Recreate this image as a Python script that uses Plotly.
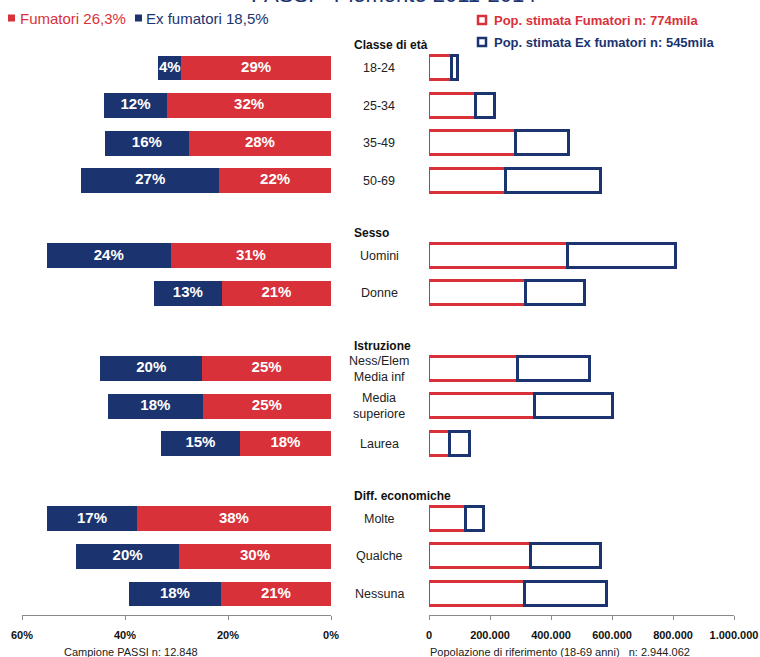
import plotly.graph_objects as go

# ---------------- data ----------------
groups = ["Classe di età", "Sesso", "Istruzione", "Diff. economiche"]
categories = [
    ["18-24", "25-34", "35-49", "50-69"],
    ["Uomini", "Donne"],
    ["Ness/Elem<br>Media inf", "Media<br>superiore", "Laurea"],
    ["Molte", "Qualche", "Nessuna"],
]
fumatori_pct = [29.1, 31.8, 27.6, 21.7, 31.1, 21.2, 25.0, 24.9, 17.7, 37.7, 29.5, 21.4]
ex_fumatori_pct = [4.4, 12.3, 16.3, 26.8, 24.1, 13.2, 19.8, 18.4, 15.3, 17.4, 20.0, 17.8]
fumatori_pop = [76000, 154000, 286000, 252000, 455000, 317000, 293000, 348000, 69000, 121000, 334000, 315000]
ex_fumatori_pop = [19000, 61000, 174000, 311000, 355000, 194000, 235000, 254000, 66000, 59000, 230000, 267000]

left_ticks = [60, 40, 20, 0]
left_ticktext = ["60%", "40%", "20%", "0%"]
right_ticks = [0, 200000, 400000, 600000, 800000, 1000000]
right_ticktext = ["0", "200.000", "400.000", "600.000", "800.000", "1.000.000"]

title = "PASSI - Piemonte 2011-2014"
legend_left = ["Fumatori 26,3%", "Ex fumatori 18,5%"]
legend_right = ["Pop. stimata Fumatori n: 774mila", "Pop. stimata Ex fumatori n: 545mila"]
left_axis_title = "Campione PASSI n: 12.848"
right_axis_title = "Popolazione di riferimento (18-69 anni)   n: 2.944.062"

# ---------------- style ----------------
RED = "#D9313A"
BLUE = "#1B336E"
FONT = "Liberation Sans, Arial, sans-serif"
W, H = 760, 657

def px(x):
    return x / W

def py(y):
    return 1 - y / H

# slot positions (one empty slot between groups)
slots, labels, header_slots = [], [], []
s = 0
for gi, cats in enumerate(categories):
    header_slots.append(s)
    for c in cats:
        slots.append(s)
        labels.append(c)
        s += 1
    s += 1

fig = go.Figure()

# left: percentages (stacked, reversed axis)
fig.add_trace(go.Bar(
    y=slots, x=fumatori_pct, orientation="h", xaxis="x", yaxis="y",
    marker=dict(color=RED, line=dict(width=0)), width=0.66,
    hoverinfo="skip", showlegend=False,
))
fig.add_trace(go.Bar(
    y=slots, x=ex_fumatori_pct, orientation="h", xaxis="x", yaxis="y",
    marker=dict(color=BLUE, line=dict(width=0)), width=0.66,
    hoverinfo="skip", showlegend=False,
))
# bar value labels (centered in each segment)
lab_x = [f / 2 for f in fumatori_pct] + [f + e / 2 for f, e in zip(fumatori_pct, ex_fumatori_pct)]
lab_t = [f"{round(v)}%" for v in fumatori_pct] + [f"{round(v)}%" for v in ex_fumatori_pct]
fig.add_trace(go.Scatter(
    x=lab_x, y=slots + slots, mode="text", text=lab_t, xaxis="x", yaxis="y",
    textposition="middle center",
    textfont=dict(color="white", size=15, family=FONT, weight="bold"),
    hoverinfo="skip", showlegend=False,
))
# right: population (outlined)
fig.add_trace(go.Bar(
    y=slots, x=fumatori_pop, orientation="h", xaxis="x2", yaxis="y",
    marker=dict(color="white", line=dict(color=RED, width=3)), width=0.64,
    hoverinfo="skip", showlegend=False,
))
fig.add_trace(go.Bar(
    y=slots, x=ex_fumatori_pop, orientation="h", xaxis="x2", yaxis="y",
    marker=dict(color="white", line=dict(color=BLUE, width=3)), width=0.64,
    hoverinfo="skip", showlegend=False,
))

ann = []
# category labels
for sl, lab in zip(slots, labels):
    ann.append(dict(x=px(379), xref="paper", y=sl, yref="y", text=lab,
                    showarrow=False, xanchor="center", yanchor="middle",
                    font=dict(size=12.5, family=FONT, color="#222")))
# group headers
for hs, g in zip(header_slots, groups):
    ann.append(dict(x=px(352), xref="paper", y=hs - 0.6, yref="y", text=g,
                    showarrow=False, xanchor="left", yanchor="middle",
                    font=dict(size=12, family=FONT, color="#111", weight="bold")))
# title (cut at top, as in the reference)
ann.append(dict(x=px(394), y=py(9), xref="paper", yref="paper", text=title,
                showarrow=False, xanchor="center", yanchor="bottom",
                font=dict(size=22, family=FONT, color=BLUE)))
# left legend
ann.append(dict(x=px(18), y=py(18), xref="paper", yref="paper",
                text=legend_left[0], showarrow=False, xanchor="left", yanchor="middle",
                font=dict(size=15, family=FONT, color=RED)))
ann.append(dict(x=px(144), y=py(18), xref="paper", yref="paper",
                text=legend_left[1], showarrow=False, xanchor="left", yanchor="middle",
                font=dict(size=15, family=FONT, color=BLUE)))
# right legend
ann.append(dict(x=px(492), y=py(20), xref="paper", yref="paper",
                text=legend_right[0], showarrow=False, xanchor="left", yanchor="middle",
                font=dict(size=13, family=FONT, color=RED, weight="bold")))
ann.append(dict(x=px(492), y=py(42), xref="paper", yref="paper",
                text=legend_right[1], showarrow=False, xanchor="left", yanchor="middle",
                font=dict(size=13, family=FONT, color=BLUE, weight="bold")))
# axis titles
ann.append(dict(x=px(131), y=py(652), xref="paper", yref="paper",
                text=left_axis_title, showarrow=False, xanchor="center", yanchor="middle",
                font=dict(size=11, family=FONT, color="#222")))
ann.append(dict(x=px(428), y=py(652), xref="paper", yref="paper",
                text=right_axis_title, showarrow=False, xanchor="left", yanchor="middle",
                font=dict(size=11, family=FONT, color="#222")))

shapes = []
# left legend filled squares
for x0, col in [(8, RED), (135, BLUE)]:
    shapes.append(dict(type="rect", xref="paper", yref="paper",
                       x0=px(x0), x1=px(x0 + 7), y0=py(21.5), y1=py(14.5),
                       line=dict(width=0), fillcolor=col))
# right legend outlined squares
for yc, col in [(20, RED), (42, BLUE)]:
    shapes.append(dict(type="rect", xref="paper", yref="paper",
                       x0=px(478), x1=px(486), y0=py(yc - 4), y1=py(yc + 4),
                       line=dict(color=col, width=2.5), fillcolor="white"))

axis_common = dict(showgrid=False, zeroline=False, showline=True, linecolor="#8a8a8a",
                   linewidth=1, ticks="outside", ticklen=4, tickcolor="#8a8a8a",
                   tickfont=dict(size=11, family=FONT, color="#111", weight="bold"),
                   ticklabelstandoff=6, fixedrange=True, automargin=False)

y_bottom_px = 614.7
slot_px = (594 - 68) / 14.0
y_lo = (y_bottom_px - 68) / slot_px
y_hi = y_lo - y_bottom_px / slot_px

fig.update_layout(
    width=W, height=H,
    margin=dict(l=0, r=0, t=0, b=0, autoexpand=False),
    paper_bgcolor="white", plot_bgcolor="white",
    barmode="stack", bargap=0,
    xaxis=dict(domain=[px(22), px(331)], range=[60, 0], tickvals=left_ticks,
               ticktext=left_ticktext, anchor="y", **axis_common),
    xaxis2=dict(domain=[px(429), px(734)], range=[0, 1000000], tickvals=right_ticks,
                ticktext=right_ticktext, anchor="y", **axis_common),
    yaxis=dict(domain=[py(y_bottom_px), 1], range=[y_lo, y_hi], visible=False,
               fixedrange=True, automargin=False),
    annotations=ann, shapes=shapes,
    font=dict(family=FONT),
)

fig.write_html("out.html")
